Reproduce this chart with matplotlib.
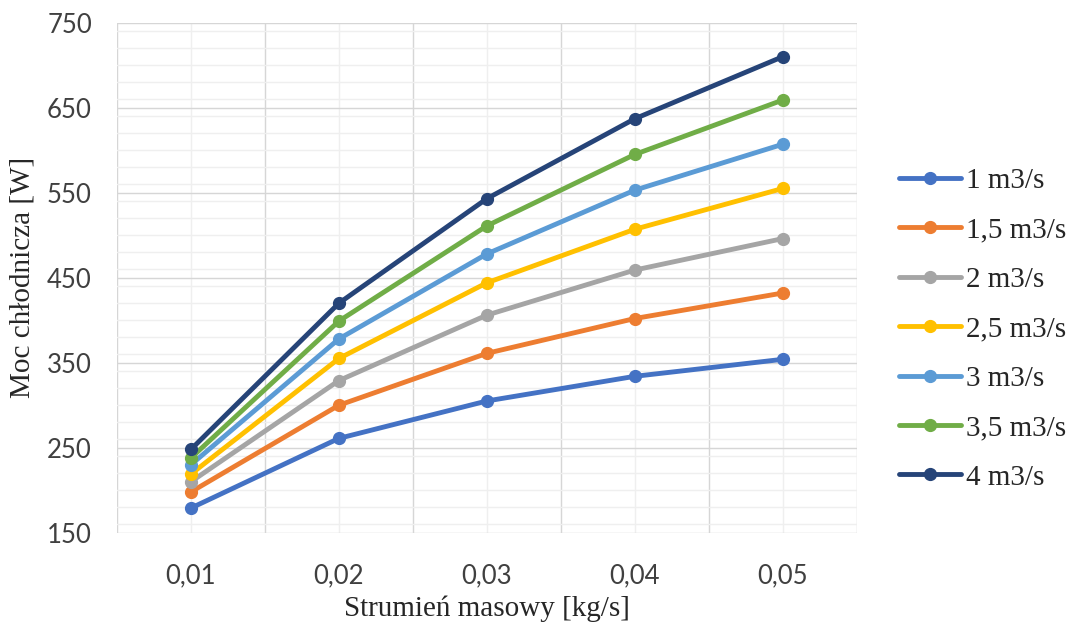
import matplotlib
matplotlib.use("Agg")
import matplotlib.pyplot as plt
from matplotlib.ticker import MultipleLocator, FixedLocator

# Mass flow rate categories (x axis)
mass_flow = ["0,01", "0,02", "0,03", "0,04", "0,05"]

# Cooler power [W] for each air volume flow
p_1_0 = [179, 261, 305, 334, 354]
p_1_5 = [198, 300, 361, 402, 432]
p_2_0 = [210, 329, 406, 459, 496]
p_2_5 = [219, 355, 444, 507, 555]
p_3_0 = [230, 378, 478, 553, 607]
p_3_5 = [238, 399, 511, 595, 659]
p_4_0 = [248, 420, 543, 637, 710]

series_labels = ["1 m3/s", "1,5 m3/s", "2 m3/s", "2,5 m3/s", "3 m3/s", "3,5 m3/s", "4 m3/s"]
series_values = [p_1_0, p_1_5, p_2_0, p_2_5, p_3_0, p_3_5, p_4_0]
series_colors = ["#4472C4", "#ED7D31", "#A5A5A5", "#FFC000", "#5B9BD5", "#70AD47", "#264478"]

fig = plt.figure(figsize=(10.75, 6.28), dpi=100)
ax = fig.add_axes([0.1088, 0.1517, 0.797 - 0.1088, 0.9639 - 0.1517])

x = list(range(len(mass_flow)))
for label, vals, col in zip(series_labels, series_values, series_colors):
    ax.plot(x, vals, color=col, linewidth=3.5, marker="o", markersize=8.5,
            label=label, solid_capstyle="round", solid_joinstyle="round", zorder=3)

ax.set_xlim(-0.5, len(mass_flow) - 0.5)
ax.set_ylim(150, 750)

# y: major every 100 starting at 150, minor every 20
ax.yaxis.set_major_locator(FixedLocator(list(range(150, 751, 100))))
ax.yaxis.set_minor_locator(MultipleLocator(20))
# x: labels at category centres, boundaries as minor ticks
ax.set_xticks(x)
ax.set_xticklabels(mass_flow)
ax.xaxis.set_minor_locator(FixedLocator([i - 0.5 for i in range(len(mass_flow) + 1)]))

ax.grid(which="major", axis="y", color="#d6d6d6", linewidth=1.0, zorder=0)
ax.grid(which="minor", axis="y", color="#efefef", linewidth=1.0, zorder=0)
ax.grid(which="minor", axis="x", color="#d6d6d6", linewidth=1.0, zorder=0)
ax.grid(which="major", axis="x", color="#efefef", linewidth=1.0, zorder=0)
ax.set_axisbelow(True)

for s in ax.spines.values():
    s.set_visible(False)

tick_family = ["Lato", "DejaVu Sans"]
ax.tick_params(axis="both", which="both", length=0)
ax.tick_params(axis="y", pad=18)
ax.tick_params(axis="x", pad=22)
for lbl in ax.get_xticklabels() + ax.get_yticklabels():
    lbl.set_fontfamily(tick_family)
    lbl.set_fontsize(18.5)
    lbl.set_color("#404040")

serif = ["Liberation Serif", "DejaVu Serif"]
ax.set_xlabel("Strumień masowy [kg/s]", fontfamily=serif, fontsize=21, color="#262626", labelpad=5)
ax.set_ylabel("Moc chłodnicza [W]", fontfamily=serif, fontsize=21, color="#262626", labelpad=8)

leg = fig.legend(loc="center left", bbox_to_anchor=(0.836, 0.476), frameon=False,
                 prop={"family": serif, "size": 21}, handlelength=2.15,
                 handletextpad=0.15, labelspacing=0.79, borderpad=0, borderaxespad=0)
for t in leg.get_texts():
    t.set_color("#262626")

fig.savefig("out.png", dpi=100)
